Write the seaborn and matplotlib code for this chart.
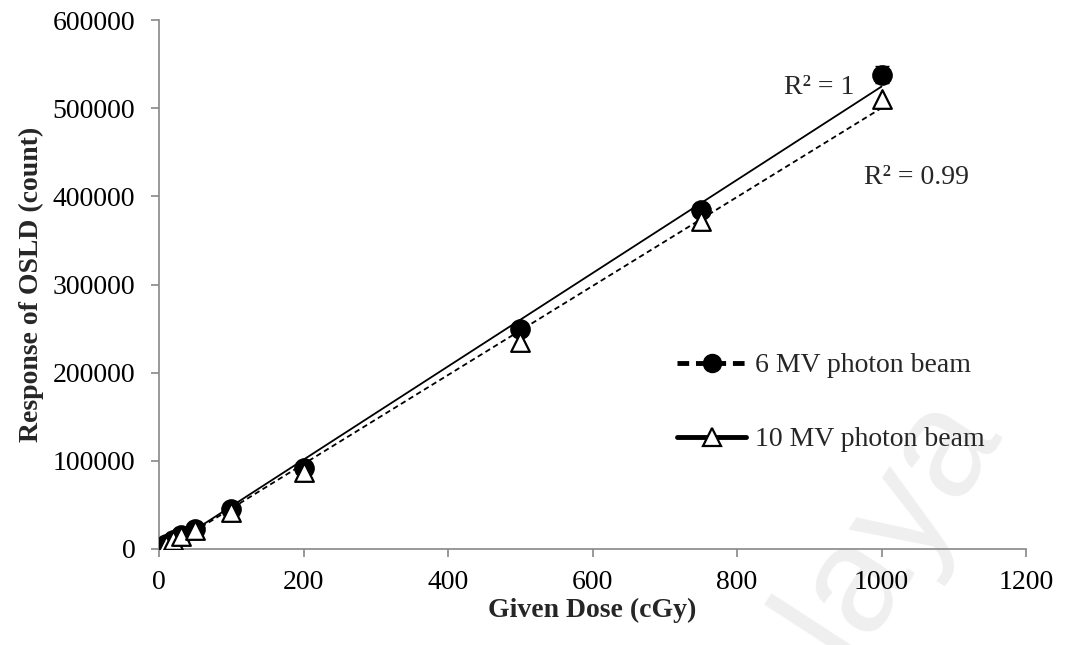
import numpy as np
import pandas as pd
import matplotlib
matplotlib.use("Agg")
import matplotlib.pyplot as plt
from matplotlib.lines import Line2D
import seaborn as sns

dose = [5, 10, 20, 30, 50, 100, 200, 500, 750, 1000]
mv6 = [2700, 5300, 10700, 15500, 22500, 45000, 92000, 249000, 384000, 538000]
mv6_err = [300, 400, 500, 600, 800, 1200, 2000, 4000, 6000, 10000]
mv10 = [2500, 5000, 10000, 14800, 21000, 42000, 87000, 235000, 372000, 510000]
x_ticks = [0, 200, 400, 600, 800, 1000, 1200]
y_ticks = [0, 100000, 200000, 300000, 400000, 500000, 600000]
labels = ["6 MV photon beam", "10 MV photon beam"]
r2_labels = ["R² = 1", "R² = 0.99"]

df = pd.DataFrame({"dose": dose, "mv6": mv6, "mv10": mv10})

sns.set_theme(style="white")
plt.rcParams["font.family"] = ["Liberation Serif", "DejaVu Serif"]

FS = 20

fig = plt.figure(figsize=(10.66, 6.45), dpi=100, facecolor="white")
ax = fig.add_axes([159/1066, 1 - 549/645, (1026-159)/1066, (549-20)/645])
ax.set_facecolor("none")

# watermark (behind everything)
fig.text(832/1066, 1 - 612/645, "Malaya", rotation=57, fontsize=110, color="#efefef",
         ha="center", va="center", family="Liberation Sans", zorder=-5)

# trendlines
sns.regplot(data=df, x="dose", y="mv6", ax=ax, scatter=False, ci=None,
            line_kws=dict(color="black", lw=1.3, ls="-"))
sns.regplot(data=df, x="dose", y="mv10", ax=ax, scatter=False, ci=None,
            line_kws=dict(color="black", lw=1.3, ls=(0, (3, 2))))

ax.errorbar(dose, mv6, yerr=mv6_err, fmt="none", ecolor="black", elinewidth=1.2, capsize=5, zorder=3)
sns.scatterplot(data=df, x="dose", y="mv6", ax=ax, marker="o", s=190, color="black",
                edgecolor="black", zorder=4)
sns.scatterplot(data=df, x="dose", y="mv10", ax=ax, marker="^", s=180, color="white",
                edgecolor="black", linewidth=1.6, zorder=5)

ax.set_xlim(0, 1200)
ax.set_ylim(0, 600000)
ax.set_xticks(x_ticks)
ax.set_yticks(y_ticks)
ax.set_xticklabels([str(t) for t in x_ticks])
ax.set_yticklabels([str(t) for t in y_ticks])
ax.tick_params(axis="both", labelsize=FS, colors="#888888", labelcolor="black",
               direction="out", length=6, width=1.2, bottom=True, left=True)
ax.tick_params(axis="x", pad=9)
ax.tick_params(axis="y", pad=11)
for s in ["top", "right"]:
    ax.spines[s].set_visible(False)
for s in ["left", "bottom"]:
    ax.spines[s].set_color("#888888")
    ax.spines[s].set_linewidth(1.2)

ax.set_xlabel("Given Dose (cGy)", fontsize=FS, fontweight="bold", labelpad=2)
ax.set_ylabel("Response of OSLD (count)", fontsize=FS, fontweight="bold", labelpad=6)

ax.text(962, 523000, r2_labels[0], fontsize=FS, ha="right", va="center")
ax.text(976, 421000, r2_labels[1], fontsize=FS, ha="left", va="center")

handles = [
    Line2D([], [], color="black", lw=3.5, ls=(0, (2.4, 1.4)), marker="o", markersize=13,
           markerfacecolor="black", markeredgecolor="black"),
    Line2D([], [], color="black", lw=3.5, ls="-", marker="^", markersize=13,
           markerfacecolor="white", markeredgecolor="black", markeredgewidth=1.6),
]
fig.legend(handles, labels, loc="upper left", bbox_to_anchor=(652/1066, 1 - 328/645),
           frameon=False, fontsize=FS, handlelength=2.5, labelspacing=1.75, handletextpad=0.3)

fig.savefig("out.png", dpi=100, facecolor="white")
